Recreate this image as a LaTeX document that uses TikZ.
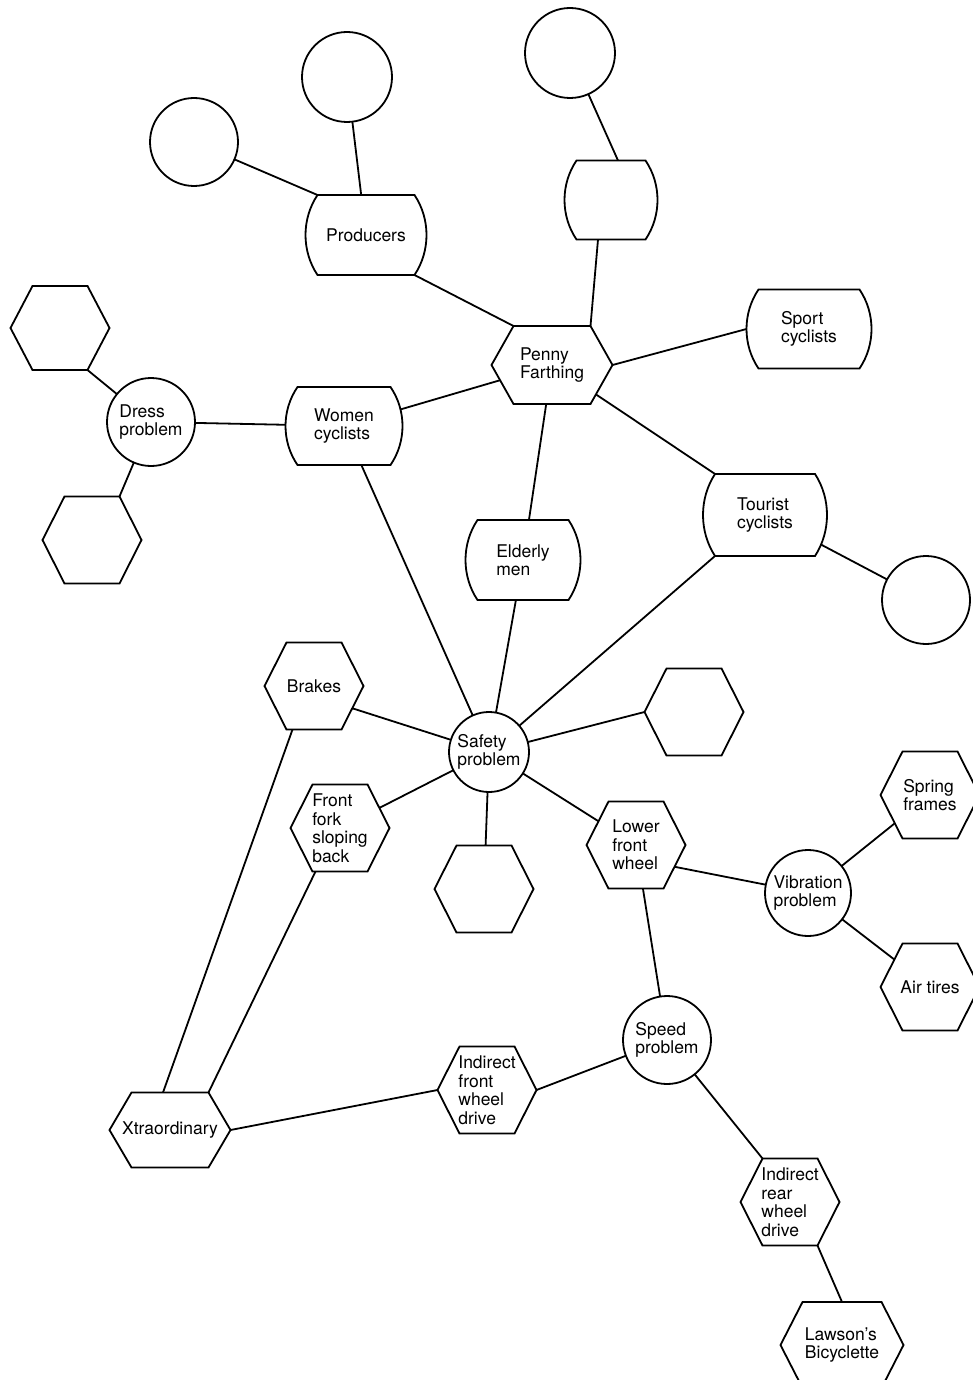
\documentclass[tikz,border=0pt]{standalone}
\usepackage{fontspec}
\setmainfont{TeX Gyre Heros}
\usetikzlibrary{calc}
\makeatletter
\newdimen\shXa \newdimen\shXb \newdimen\shYa \newdimen\shYb \newdimen\shYc \newdimen\shYd
\newdimen\shXc \newdimen\shXd
\newdimen\hexcut \hexcut=22pt
\newdimen\barb \barb=12pt
\def\shcorners{\southwest \shXa=\pgf@x \shYa=\pgf@y \northeast \shXb=\pgf@x \shYb=\pgf@y \shYc=.5\shYa \advance\shYc by .5\shYb}
\pgfdeclareshape{hexa}{
  \inheritsavedanchors[from=rectangle]
  \inheritanchorborder[from=rectangle]
  \inheritanchor[from=rectangle]{center}
  \inheritanchor[from=rectangle]{north}
  \inheritanchor[from=rectangle]{south}
  \inheritanchor[from=rectangle]{east}
  \inheritanchor[from=rectangle]{west}
  \anchor{tl}{\southwest \pgf@xa=\pgf@x \northeast \pgf@x=\pgf@xa \advance\pgf@x by \hexcut}
  \anchor{tr}{\northeast \advance\pgf@x by -\hexcut}
  \anchor{bl}{\southwest \advance\pgf@x by \hexcut}
  \anchor{br}{\northeast \pgf@xa=\pgf@x \southwest \pgf@x=\pgf@xa \advance\pgf@x by -\hexcut}
  \backgroundpath{
    \shcorners
    \pgfpathmoveto{\pgfqpoint{\shXa}{\shYc}}
    \pgfpathlineto{\pgfqpoint{\dimexpr\shXa+\hexcut\relax}{\shYb}}
    \pgfpathlineto{\pgfqpoint{\dimexpr\shXb-\hexcut\relax}{\shYb}}
    \pgfpathlineto{\pgfqpoint{\shXb}{\shYc}}
    \pgfpathlineto{\pgfqpoint{\dimexpr\shXb-\hexcut\relax}{\shYa}}
    \pgfpathlineto{\pgfqpoint{\dimexpr\shXa+\hexcut\relax}{\shYa}}
    \pgfpathclose
  }
}
\pgfdeclareshape{barrel}{
  \inheritsavedanchors[from=rectangle]
  \inheritanchorborder[from=rectangle]
  \inheritanchor[from=rectangle]{center}
  \inheritanchor[from=rectangle]{north}
  \inheritanchor[from=rectangle]{south}
  \inheritanchor[from=rectangle]{east}
  \inheritanchor[from=rectangle]{west}
  \anchor{tl}{\southwest \pgf@xa=\pgf@x \northeast \pgf@x=\pgf@xa \advance\pgf@x by \barb}
  \anchor{tr}{\northeast \advance\pgf@x by -\barb}
  \anchor{bl}{\southwest \advance\pgf@x by \barb}
  \anchor{br}{\northeast \pgf@xa=\pgf@x \southwest \pgf@x=\pgf@xa \advance\pgf@x by -\barb}
  \backgroundpath{
    \shcorners
    \shYd=\shYb \advance\shYd by -\shYa \shYd=0.3\shYd
    \shXc=\dimexpr\shXb+\barb/3\relax
    \shXd=\dimexpr\shXa-\barb/3\relax
    \pgfpathmoveto{\pgfqpoint{\dimexpr\shXa+\barb\relax}{\shYb}}
    \pgfpathlineto{\pgfqpoint{\dimexpr\shXb-\barb\relax}{\shYb}}
    \pgfpathcurveto{\pgfqpoint{\shXc}{\dimexpr\shYb-\shYd\relax}}
                   {\pgfqpoint{\shXc}{\dimexpr\shYa+\shYd\relax}}
                   {\pgfqpoint{\dimexpr\shXb-\barb\relax}{\shYa}}
    \pgfpathlineto{\pgfqpoint{\dimexpr\shXa+\barb\relax}{\shYa}}
    \pgfpathcurveto{\pgfqpoint{\shXd}{\dimexpr\shYa+\shYd\relax}}
                   {\pgfqpoint{\shXd}{\dimexpr\shYb-\shYd\relax}}
                   {\pgfqpoint{\dimexpr\shXa+\barb\relax}{\shYb}}
    \pgfpathclose
  }
}
\makeatother
\pgfdeclarelayer{back}
\pgfdeclarelayer{lines}
\pgfsetlayers{back,lines,main}
\tikzset{
  box/.style={font=\fontsize{17.5}{18.5}\selectfont, align=left, inner sep=0pt, outer sep=0pt,
    draw=black, fill=white, line width=1.8pt},
  circ/.style={box, shape=circle, minimum size=#1},
  circ/.default=88pt,
  hexn/.style={box, shape=hexa, minimum width=99pt, minimum height=87pt},
  barn/.style={box, shape=barrel, minimum width=121pt, minimum height=80pt},
  conn/.style={draw=black, line width=1.8pt}
}
\begin{document}
\begin{tikzpicture}[x=1pt,y=-1pt]
\useasboundingbox (0,0) rectangle (973,1380);
\begin{pgfonlayer}{back}
\fill[white] (0,0) rectangle (973,1380);
\end{pgfonlayer}
% circles
\node[circ] (c1) at (194,142) {};
\node[circ=90pt] (c2) at (347,77) {};
\node[circ=90pt] (c3) at (570,53) {};
\node[circ] (dress) at (151,422) {Dress\\problem};
\node[circ] (rc) at (926,600) {};
\node[circ=80pt] (safety) at (489,752) {Safety\\problem};
\node[circ=86pt] (vib) at (808,893) {Vibration\\problem};
\node[circ] (speed) at (667,1040) {Speed\\problem};
% barrels
\node[barn] (prod) at (366,235) {Producers};
\node[barn, minimum width=93pt, minimum height=79pt] (tb) at (611,200) {};
\node[barn, minimum width=125pt, minimum height=79pt] (sport) at (809,329) {Sport\\cyclists};
\node[barn, minimum width=117pt, minimum height=78pt] (women) at (344,426) {Women\\cyclists};
\node[barn, minimum width=115pt, minimum height=80pt] (elderly) at (523,560) {Elderly\\men};
\node[barn, minimum width=124pt, minimum height=82pt] (tourist) at (765,515) {Tourist\\cyclists};
% hexagons
\node[hexn, minimum width=121pt, minimum height=78pt] (pf) at (552,365) {Penny\\Farthing};
\node[hexn, minimum height=84pt] (dh1) at (60,328) {};
\node[hexn] (dh2) at (92,540) {};
\node[hexn] (brakes) at (314,686) {Brakes};
\node[hexn] (fork) at (340,828) {Front\\fork\\sloping\\back};
\node[hexn] (hexr) at (694,712) {};
\node[hexn] (hexb) at (484,889) {};
\node[hexn] (lfw) at (636,845) {Lower\\front\\wheel};
\node[hexn] (spring) at (930,795) {Spring\\frames};
\node[hexn] (air) at (930,987) {Air tires};
\node[hexn] (ifwd) at (487,1090) {Indirect\\front\\wheel\\drive};
\node[hexn, minimum width=121pt, minimum height=75pt] (xtra) at (170,1130) {Xtraordinary};
\node[hexn] (irwd) at (790,1202) {Indirect\\rear\\wheel\\drive};
\node[hexn, minimum width=123pt, minimum height=86pt] (lawson) at (842,1345) {Lawson’s\\Bicyclette};
% connectors
\begin{pgfonlayer}{lines}
\draw[conn] (c1) -- (prod.tl);
\draw[conn] (c2) -- (prod.center);
\draw[conn] (prod.br) -- (pf.tl);
\draw[conn] (c3) -- ($(tb.north)+(7,0)$);
\draw[conn] ($(tb.south)+(-13,0)$) -- (pf.tr);
\draw[conn] (pf.east) -- (sport.west);
\draw[conn] (pf.center) -- (women.center);
\draw[conn] (pf.center) -- (elderly.center);
\draw[conn] (pf.center) -- (tourist.tl);
\draw[conn] (tourist.center) -- (rc);
\draw[conn] (tourist.bl) -- (safety);
\draw[conn] (women.center) -- (dress);
\draw[conn] (dress) -- (dh1.br);
\draw[conn] (dress) -- (dh2.tr);
\draw[conn] (women.center) -- (safety);
\draw[conn] (elderly.center) -- (safety);
\draw[conn] ($(brakes.center)+(0,10)$) -- (safety);
\draw[conn] (fork.center) -- (safety);
\draw[conn] (hexr.west) -- (safety);
\draw[conn] (hexb.center) -- (safety);
\draw[conn] (lfw.center) -- (safety);
\draw[conn] ($(lfw.east)!0.5!(lfw.br)$) -- (vib);
\draw[conn] (lfw.center) -- (speed);
\draw[conn] (vib) -- (spring.center);
\draw[conn] (vib) -- (air.center);
\draw[conn] (ifwd.east) -- (speed);
\draw[conn] (speed) -- (irwd.tl);
\draw[conn] (irwd.br) -- (lawson.north);
\draw[conn] (xtra.east) -- (ifwd.west);
\draw[conn] ($(xtra.north)+(-7,0)$) -- ($(brakes.bl)+(6,0)$);
\draw[conn] (xtra.tr) -- ($(fork.bl)+(3,0)$);
\end{pgfonlayer}
\end{tikzpicture}
\end{document}
